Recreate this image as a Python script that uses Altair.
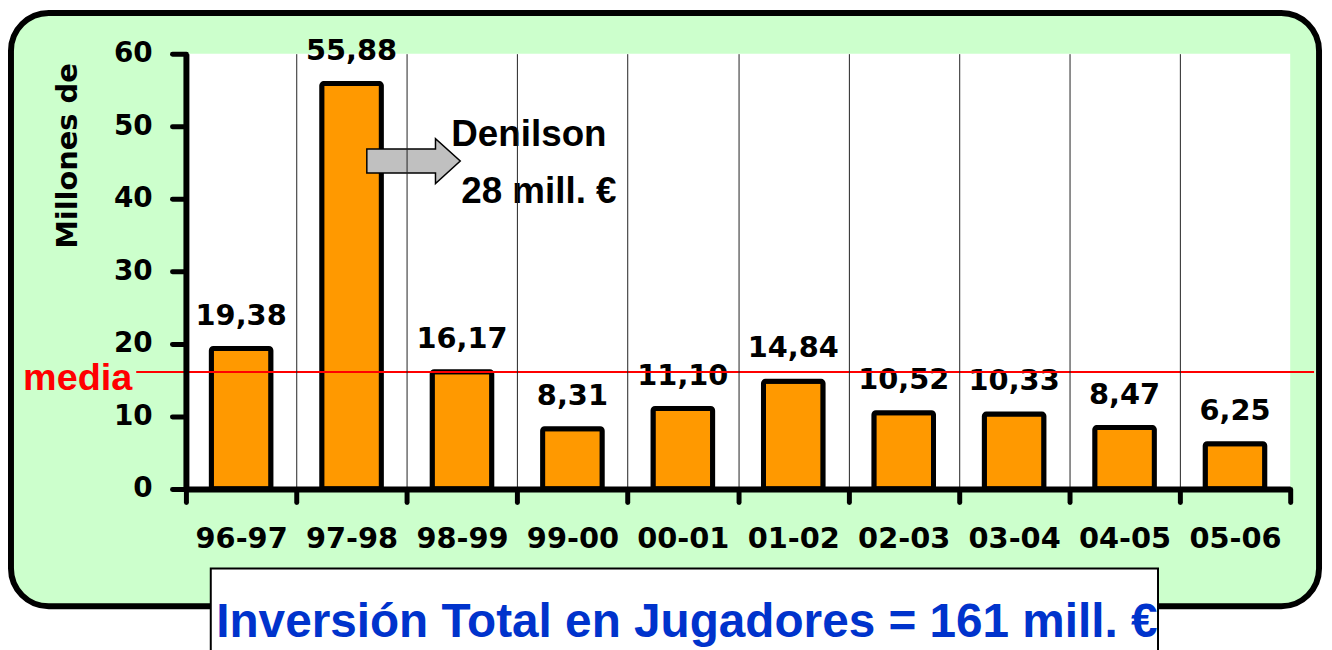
import altair as alt
import pandas as pd

temporadas = ["96-97", "97-98", "98-99", "99-00", "00-01", "01-02", "02-03", "03-04", "04-05", "05-06"]
valores = [19.38, 55.88, 16.17, 8.31, 11.10, 14.84, 10.52, 10.33, 8.47, 6.25]
y_ticks = [0, 10, 20, 30, 40, 50, 60]

df = pd.DataFrame({"temporada": temporadas, "valor": valores})
one = pd.DataFrame({"k": [0]})

W, H = 1111, 438
LBL_FONT = "DejaVu Sans"
TXT_FONT = "Liberation Sans"

x_enc = alt.X("temporada:N", sort=temporadas,
              scale=alt.Scale(paddingInner=0, paddingOuter=0),
              axis=alt.Axis(title=None, labelAngle=0, tickBand="extent", grid=True,
                            gridColor="#222222", gridWidth=1,
                            gridOpacity=alt.ConditionalAxisNumber(
                                condition={"test": "datum.value === '05-06'", "value": 0},
                                value=1),
                            domainColor="black", domainWidth=6,
                            tickColor="black", tickWidth=5, tickSize=13, tickCap="round",
                            labelFont=LBL_FONT, labelFontSize=29, labelFontWeight="bold",
                            labelColor="black", labelPadding=23, zindex=1))
y_enc = alt.Y("valor:Q",
              scale=alt.Scale(domain=[0, 60], nice=False, zero=True),
              axis=alt.Axis(title=None, values=y_ticks, grid=False,
                            domainColor="black", domainWidth=6,
                            tickColor="black", tickWidth=5, tickSize=14, tickCap="round",
                            labelFont=LBL_FONT, labelFontSize=28, labelFontWeight="bold",
                            labelColor="black", labelPadding=20, zindex=1))

frame = alt.Chart(one).mark_rect(fill="#CCFFCC", stroke="black", strokeWidth=6,
                                 cornerRadius=38).encode(
    x=alt.value(-176), x2=alt.value(1140), y=alt.value(-41), y2=alt.value(556))

plot_bg = alt.Chart(one).mark_rect(fill="white").encode(
    x=alt.value(0), x2=alt.value(W), y=alt.value(0), y2=alt.value(H))

bars = alt.Chart(df).mark_bar(color="#FF9900", stroke="black", strokeWidth=5,
                              strokeJoin="round", cornerRadius=2,
                              width=alt.RelativeBandSize(0.54)).encode(x=x_enc, y=y_enc)

labels = alt.Chart(df).transform_calculate(
    label="replace(format(datum.valor, '.2f'), '.', ',')"
).mark_text(font=LBL_FONT, fontSize=29, fontWeight="bold", color="black",
            baseline="alphabetic", dy=-24).encode(
    x=alt.X("temporada:N", sort=temporadas), y="valor:Q", text="label:N")

media_line = alt.Chart(df).transform_aggregate(media="mean(valor)").mark_rule(
    color="#FF0000", strokeWidth=2).encode(
    y="media:Q", x=alt.value(-50), x2=alt.value(1135))

media_text = alt.Chart(one).mark_text(text="media", font=TXT_FONT, fontSize=38,
                                      fontWeight="bold", color="#FF0000",
                                      align="right", baseline="alphabetic").encode(
    x=alt.value(-54), y=alt.value(338))

arrow_path = "M -1 -0.255 L 0.47 -0.255 L 0.47 -0.48 L 1 0 L 0.47 0.48 L 0.47 0.255 L -1 0.255 Z"
arrow = alt.Chart(one).mark_point(shape=arrow_path, size=94 * 94, filled=True,
                                  fill="#C0C0C0", stroke="black", strokeWidth=1.5,
                                  opacity=1, fillOpacity=1).encode(
    x=alt.value(229), y=alt.value(108))

den1 = alt.Chart(one).mark_text(text="Denilson", font=TXT_FONT, fontSize=37,
                                fontWeight="bold", color="black", align="left",
                                baseline="alphabetic").encode(x=alt.value(267), y=alt.value(93))
den2 = alt.Chart(one).mark_text(text="28 mill. €", font=TXT_FONT, fontSize=37,
                                fontWeight="bold", color="black", align="left",
                                baseline="alphabetic").encode(x=alt.value(277), y=alt.value(150))

box = alt.Chart(one).mark_rect(fill="white", stroke="black", strokeWidth=2).encode(
    x=alt.value(25), x2=alt.value(978), y=alt.value(518), y2=alt.value(620))
total_text = alt.Chart(one).mark_text(
    text="Inversión Total en Jugadores = 161 mill. €",
    font=TXT_FONT, fontSize=48, fontWeight="bold", color="#0033CC",
    align="center", baseline="alphabetic").encode(x=alt.value(504), y=alt.value(587))

y_title = alt.Chart(one).mark_text(text="Millones de", font=LBL_FONT, fontSize=29,
                                   fontWeight="bold", color="black", angle=270,
                                   align="center", baseline="middle").encode(
    x=alt.value(-119), y=alt.value(103))

chart = alt.layer(frame, plot_bg, bars, labels, media_line, media_text, arrow,
                  den1, den2, box, total_text, y_title).properties(
    width=W, height=H,
    autosize=alt.AutoSizeParams(type="none"),
    padding={"left": 179, "top": 44, "right": 34, "bottom": 160},
).configure_view(stroke=None)

chart.save("out.html", embed_options={"renderer": "svg", "actions": False})
